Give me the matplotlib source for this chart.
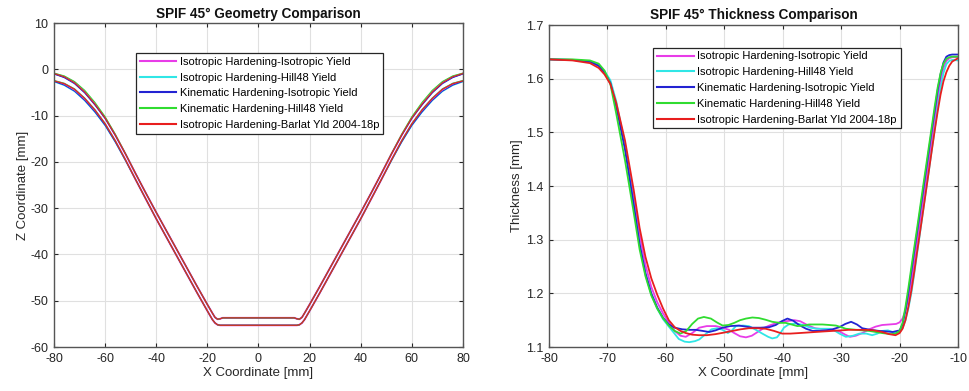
import matplotlib
matplotlib.use('Agg')
from matplotlib import pyplot as plt

plt.rcParams['font.family'] = ['Liberation Sans', 'DejaVu Sans']
plt.rcParams['axes.unicode_minus'] = False

labels = ['Isotropic Hardening-Isotropic Yield', 'Isotropic Hardening-Hill48 Yield',
          'Kinematic Hardening-Isotropic Yield', 'Kinematic Hardening-Hill48 Yield',
          'Isotropic Hardening-Barlat Yld 2004-18p']
colors = ['#e83ce8', '#30e6e6', '#2323d2', '#30dc30', '#e81e1e']

# ---- geometry: half profile (x from -80 to 0), symmetric about x=0
geo_x_half = [-80, -76, -72, -68, -64, -60, -56, -52, -48, -44, -40, -36, -32, -28,
              -24, -20, -18, -17, -16, -15, -14, -10, -5, 0]
geo_slope_top = [-22.6, -26.8, -30.9, -34.9, -38.9, -42.9, -46.9, -50.8, -52.7, -53.6,
                 -54.0, -53.9, -53.7, -53.7, -53.7, -53.7]
geo_slope_bot = [-23.9, -28.1, -32.3, -36.3, -40.3, -44.3, -48.3, -52.2, -54.1, -54.8,
                 -55.2, -55.3, -55.3, -55.3, -55.3, -55.3]

mag_top = [-0.9, -1.6, -2.8, -4.8, -7.5, -10.5, -14.2, -18.3] + geo_slope_top
cya_top = [-1.0, -1.7, -3.0, -5.0, -7.6, -10.6, -14.2, -18.3] + geo_slope_top
blu_top = [-1.0, -1.8, -3.1, -5.1, -7.7, -10.6, -14.3, -18.3] + geo_slope_top
grn_top = [-0.8, -1.4, -2.6, -4.5, -7.1, -10.2, -14.0, -18.2] + geo_slope_top
red_top = [-0.9, -1.6, -2.9, -4.9, -7.5, -10.5, -14.2, -18.3] + geo_slope_top

mag_bot = [-2.5, -3.1, -4.3, -6.3, -8.8, -11.8, -15.5, -19.6] + geo_slope_bot
cya_bot = [-2.7, -3.5, -4.8, -6.8, -9.3, -12.2, -15.8, -19.8] + geo_slope_bot
blu_bot = [-2.6, -3.4, -4.7, -6.7, -9.2, -12.1, -15.7, -19.7] + geo_slope_bot
grn_bot = [-2.4, -3.0, -4.2, -6.2, -8.7, -11.7, -15.4, -19.6] + geo_slope_bot
red_bot = [-2.5, -3.1, -4.3, -6.3, -8.8, -11.8, -15.5, -19.6] + geo_slope_bot

# ---- thickness
desc_x = [-80, -76, -73, -71.5, -70.5, -69.5, -68.5, -67, -65.5, -64.5, -63.5, -62.5, -61.5, -60.5, -59.5]
asc_x = [-20, -19.5, -19, -18.5, -18, -17.5, -17, -16.5, -16, -15.5, -15, -14.5, -14, -13.5,
         -13, -12.5, -12, -11.5, -11, -10]

mag_desc = [1.636, 1.635, 1.632, 1.624, 1.612, 1.593, 1.552, 1.478, 1.382, 1.310, 1.253, 1.212, 1.184, 1.163, 1.146]
mag_bx = [-58.5, -57.5, -56.6, -55.5, -54.3, -53, -51.5, -50.3, -49.2, -48.3, -47.3, -46.3, -45.3, -44.3,
          -43.3, -42.3, -41, -39.5, -38, -37, -35.8, -34.5, -33, -31.5, -30.3, -29.3, -28.5, -27.5,
          -26.4, -25.2, -24.1, -23, -21.8, -20.6]
mag_bt = [1.130, 1.121, 1.119, 1.126, 1.136, 1.139, 1.139, 1.136, 1.132, 1.126, 1.120, 1.118, 1.121, 1.128,
          1.135, 1.140, 1.145, 1.148, 1.150, 1.148, 1.141, 1.135, 1.133, 1.132, 1.129, 1.123, 1.119, 1.121,
          1.126, 1.133, 1.138, 1.141, 1.142, 1.143]
mag_asc = [1.146, 1.153, 1.168, 1.19, 1.222, 1.26, 1.298, 1.336, 1.374, 1.411, 1.449, 1.487, 1.525, 1.562,
           1.596, 1.620, 1.633, 1.638, 1.640, 1.640]

cya_desc = [1.636, 1.635, 1.632, 1.625, 1.614, 1.597, 1.558, 1.475, 1.365, 1.290, 1.235, 1.198, 1.172, 1.152, 1.138]
cya_bx = [-58.6, -57.8, -56.8, -56, -55, -54.3, -53.2, -52.2, -51.2, -50.3, -49.4, -48.7, -48, -46.8,
          -45.8, -44.6, -43.5, -42.5, -41.8, -41, -40.4, -39.8, -39, -37.8, -36.5, -35.3, -34.2, -33,
          -32, -31.2, -30.3, -29.2, -28, -26.9, -25.7, -24.7, -23.8, -23, -22, -21.2, -20.7]
cya_bt = [1.126, 1.115, 1.110, 1.109, 1.111, 1.114, 1.124, 1.133, 1.135, 1.132, 1.126, 1.131, 1.139, 1.140,
          1.139, 1.132, 1.125, 1.119, 1.116, 1.118, 1.126, 1.136, 1.142, 1.144, 1.141, 1.136, 1.134, 1.134,
          1.134, 1.131, 1.125, 1.119, 1.121, 1.125, 1.125, 1.122, 1.125, 1.130, 1.131, 1.128, 1.126]
cya_asc = [1.128, 1.135, 1.150, 1.172, 1.2, 1.236, 1.275, 1.313, 1.352, 1.39, 1.428, 1.467, 1.505, 1.545,
           1.582, 1.61, 1.627, 1.633, 1.635, 1.634]

blu_desc = [1.636, 1.635, 1.632, 1.624, 1.612, 1.592, 1.548, 1.468, 1.365, 1.292, 1.238, 1.200, 1.174, 1.155, 1.142]
blu_bx = [-58.5, -57.2, -56, -54.9, -53.7, -52.6, -51.5, -50.3, -49, -47.5, -46.3, -45.2, -43.8, -42.3,
          -41.2, -40.2, -39.2, -38.2, -37.2, -36, -34.9, -33.7, -32.6, -31.5, -30.3, -29.3, -28.3, -27.3,
          -26.4, -25, -23.5, -22.3, -21.2]
blu_bt = [1.136, 1.133, 1.132, 1.132, 1.130, 1.128, 1.131, 1.136, 1.139, 1.140, 1.138, 1.136, 1.136, 1.137,
          1.141, 1.148, 1.153, 1.149, 1.141, 1.134, 1.130, 1.130, 1.131, 1.133, 1.137, 1.143, 1.147, 1.142,
          1.135, 1.132, 1.130, 1.129, 1.128]
blu_asc = [1.131, 1.142, 1.168, 1.202, 1.24, 1.278, 1.315, 1.353, 1.39, 1.428, 1.466, 1.504, 1.54, 1.578,
           1.608, 1.630, 1.641, 1.644, 1.645, 1.645]

grn_desc = [1.636, 1.636, 1.634, 1.628, 1.615, 1.590, 1.535, 1.448, 1.350, 1.282, 1.232, 1.196, 1.172, 1.154, 1.140]
grn_bx = [-58.5, -57.5, -56.5, -55.5, -54.5, -53.5, -52.3, -51.3, -50.3, -49.3, -48.3, -47.3, -46.3, -45.2,
          -44.1, -43, -41.8, -40.6, -39.5, -38.5, -37.5, -36.5, -35.5, -34.3, -33.2, -32, -30.9, -30,
          -29.2, -27.5, -25.2, -23, -21.5, -20.7]
grn_bt = [1.130, 1.125, 1.130, 1.143, 1.153, 1.156, 1.153, 1.146, 1.140, 1.141, 1.145, 1.150, 1.153, 1.155,
          1.154, 1.151, 1.147, 1.145, 1.145, 1.142, 1.139, 1.140, 1.142, 1.142, 1.142, 1.141, 1.140, 1.137,
          1.134, 1.132, 1.130, 1.126, 1.124, 1.125]
grn_asc = [1.13, 1.145, 1.175, 1.21, 1.248, 1.285, 1.322, 1.36, 1.398, 1.435, 1.473, 1.51, 1.548, 1.583,
           1.61, 1.628, 1.637, 1.640, 1.641, 1.641]

red_desc = [1.636, 1.634, 1.629, 1.620, 1.608, 1.590, 1.555, 1.485, 1.392, 1.322, 1.268, 1.228, 1.198, 1.172, 1.150]
red_bx = [-58.5, -57.5, -56.6, -55.5, -54.3, -53, -51.5, -50, -48.6, -47.2, -45.8, -44.3, -42.9, -41.5,
          -40.1, -38.7, -37.2, -35.8, -34.4, -33, -31.5, -30, -28.7, -27.3, -25.8, -24.4, -23, -21.8, -20.7]
red_bt = [1.137, 1.130, 1.126, 1.123, 1.122, 1.122, 1.124, 1.127, 1.130, 1.133, 1.135, 1.135, 1.134, 1.130,
          1.125, 1.125, 1.126, 1.127, 1.128, 1.129, 1.130, 1.131, 1.132, 1.132, 1.132, 1.131, 1.128, 1.124, 1.122]
red_asc = [1.126, 1.134, 1.150, 1.175, 1.205, 1.240, 1.278, 1.315, 1.352, 1.39, 1.428, 1.466, 1.503, 1.538,
           1.570, 1.595, 1.612, 1.624, 1.632, 1.638]


def mirror(half):
    return half + half[-2::-1]


def style_axes(ax):
    ax.grid(True, color='#e0e0e0', linewidth=0.8)
    ax.set_axisbelow(True)
    ax.tick_params(direction='in', length=3, top=True, right=True, labelsize=9,
                   colors='#262626', pad=4)
    for s in ax.spines.values():
        s.set_color('#555555')
        s.set_linewidth(1.0)


def add_legend(ax, anchor):
    leg = ax.legend(loc='upper left', bbox_to_anchor=anchor, fontsize=8, fancybox=False,
                    edgecolor='#262626', framealpha=1, handlelength=3.3, labelspacing=0.52,
                    borderaxespad=0, borderpad=0.35, handletextpad=0.3)
    leg.get_frame().set_linewidth(0.9)
    for h in leg.get_lines():
        h.set_linewidth(1.5)


fig = plt.figure(figsize=(9.69, 3.91), dpi=100)
ax1 = fig.add_axes([0.0557, 0.1125, 0.4221, 0.8285])
ax2 = fig.add_axes([0.5666, 0.1125, 0.4221, 0.8235])

geo_x = [float(v) for v in geo_x_half] + [-float(v) for v in geo_x_half[-2::-1]]
tops = [mag_top, cya_top, blu_top, grn_top, red_top]
bots = [mag_bot, cya_bot, blu_bot, grn_bot, red_bot]
geo_lw = [1.4, 0.7, 0.7, 0.7, 0.8]
for i in range(len(labels)):
    ax1.plot(geo_x, mirror(tops[i]), color=colors[i], lw=geo_lw[i], label=labels[i])
    ax1.plot(geo_x, mirror(bots[i]), color=colors[i], lw=geo_lw[i])

ax1.set_xlim(-80, 80)
ax1.set_ylim(-60, 10)
ax1.set_xticks(range(-80, 81, 20))
ax1.set_yticks(range(-60, 11, 10))
ax1.set_title('SPIF 45° Geometry Comparison', fontsize=9.8, fontweight='bold', pad=4, color='#111111')
ax1.set_xlabel('X Coordinate [mm]', fontsize=9.5, color='#262626', labelpad=2)
ax1.set_ylabel('Z Coordinate [mm]', fontsize=9.5, color='#262626', labelpad=1)
style_axes(ax1)
add_legend(ax1, (0.2, 0.908))

descs = [mag_desc, cya_desc, blu_desc, grn_desc, red_desc]
bxs = [mag_bx, cya_bx, blu_bx, grn_bx, red_bx]
bts = [mag_bt, cya_bt, blu_bt, grn_bt, red_bt]
ascs = [mag_asc, cya_asc, blu_asc, grn_asc, red_asc]
for i in range(len(labels)):
    x = desc_x + bxs[i] + asc_x
    t = descs[i] + bts[i] + ascs[i]
    ax2.plot(x, t, color=colors[i], lw=1.3, label=labels[i])

ax2.set_xlim(-80, -10)
ax2.set_ylim(1.1, 1.7)
ax2.set_xticks(range(-80, -9, 10))
ax2.set_yticks([1.1, 1.2, 1.3, 1.4, 1.5, 1.6, 1.7])
ax2.set_yticklabels(['1.1', '1.2', '1.3', '1.4', '1.5', '1.6', '1.7'])
ax2.set_title('SPIF 45° Thickness Comparison', fontsize=9.8, fontweight='bold', pad=4, color='#111111')
ax2.set_xlabel('X Coordinate [mm]', fontsize=9.5, color='#262626', labelpad=2)
ax2.set_ylabel('Thickness [mm]', fontsize=9.5, color='#262626', labelpad=2)
style_axes(ax2)
add_legend(ax2, (0.255, 0.93))

fig.savefig('out.png', dpi=100)
